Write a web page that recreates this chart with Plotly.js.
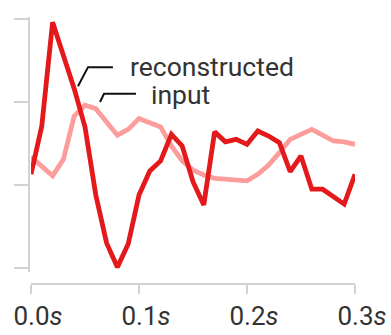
<!DOCTYPE html>
<html>
<head>
<meta charset="utf-8">
<script src="https://cdn.plot.ly/plotly-3.0.1.min.js"></script>
<style>html,body{margin:0;padding:0;background:#fff;}#chart{width:391px;height:335px;}</style>
</head>
<body>
<div id="chart"></div>
<script>
// time in seconds, sampled every 0.01 s
const time = [0.00,0.01,0.02,0.03,0.04,0.05,0.06,0.07,0.08,0.09,0.10,0.11,0.12,0.13,0.14,0.15,0.16,0.17,0.18,0.19,0.20,0.21,0.22,0.23,0.24,0.25,0.26,0.27,0.28,0.29,0.30];
const inputSignal = [0.34,0.22,0.11,0.31,0.83,0.96,0.92,0.76,0.60,0.67,0.80,0.75,0.70,0.47,0.29,0.18,0.12,0.08,0.07,0.06,0.05,0.13,0.24,0.39,0.55,0.61,0.67,0.60,0.53,0.52,0.49];
const reconstructed = [0.13,0.71,1.96,1.55,1.16,0.70,-0.12,-0.70,-0.99,-0.71,-0.12,0.17,0.29,0.61,0.47,0.04,-0.24,0.64,0.52,0.55,0.49,0.65,0.59,0.51,0.16,0.35,-0.05,-0.05,-0.14,-0.23,0.13];
const xTickVals = [0, 0.1, 0.2, 0.3];
const xTickText = ["0.0<i>s</i>", "0.1<i>s</i>", "0.2<i>s</i>", "0.3<i>s</i>"];
const yTickVals = [-1, 0, 1, 2];
const labelNames = ["reconstructed", "input"];

const FONT = "Roboto, 'Noto Sans', sans-serif";
const traces = [
  {x: time, y: inputSignal, type: "scatter", mode: "lines", name: "input",
   line: {color: "#fc9d9c", width: 4.8}, cliponaxis: false, hoverinfo: "skip"},
  {x: time, y: reconstructed, type: "scatter", mode: "lines", name: "reconstructed",
   line: {color: "#e3191c", width: 4.8}, cliponaxis: false, hoverinfo: "skip"}
];

const layout = {
  width: 391, height: 335,
  margin: {l: 28, r: 36, t: 17, b: 52, pad: 0},
  paper_bgcolor: "#fff", plot_bgcolor: "#fff",
  showlegend: false,
  font: {family: FONT, color: "#333"},
  xaxis: {
    domain: [0.00917, 1], range: [0, 0.3], anchor: "free", position: 0,
    showgrid: false, zeroline: false, showline: true, linecolor: "#d2d2d2", linewidth: 1.5,
    ticks: "outside", ticklen: 9, tickwidth: 1.5, tickcolor: "#d2d2d2",
    tickvals: xTickVals, ticktext: xTickText, ticklabelshift: 7,
    tickfont: {family: FONT, size: 26, color: "#333"}
  },
  yaxis: {
    domain: [0.04135, 1], range: [-1.048, 2.024], anchor: "free", position: 0,
    showgrid: false, zeroline: false, showline: true, linecolor: "#d2d2d2", linewidth: 1.5,
    ticks: "outside", ticklen: 14, tickwidth: 1.5, tickcolor: "#d2d2d2",
    tickvals: yTickVals, showticklabels: false
  },
  shapes: [
    {type: "path", xref: "x", yref: "y", path: "M 0.0759 1.42 L 0.0528 1.42 L 0.0435 1.19",
     line: {color: "#111", width: 2}},
    {type: "path", xref: "x", yref: "y", path: "M 0.0972 1.10 L 0.0676 1.10 L 0.0639 1.00",
     line: {color: "#111", width: 2}}
  ],
  annotations: [
    {x: 0.0907, y: 1.43, xref: "x", yref: "y", text: labelNames[0], showarrow: false,
     xanchor: "left", yanchor: "middle", borderpad: 0, font: {family: FONT, size: 26.5, color: "#333"}},
    {x: 0.1105, y: 1.09, xref: "x", yref: "y", text: labelNames[1], showarrow: false,
     xanchor: "left", yanchor: "middle", borderpad: 0, font: {family: FONT, size: 26.5, color: "#333"}}
  ]
};

Plotly.newPlot("chart", traces, layout, {displayModeBar: false, staticPlot: true});
</script>
</body>
</html>
